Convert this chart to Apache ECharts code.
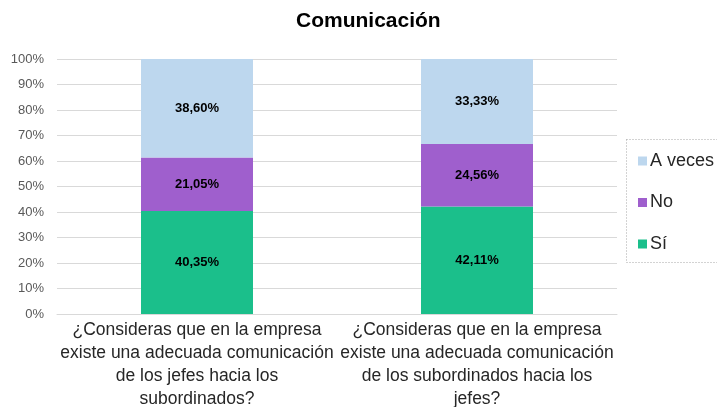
<!DOCTYPE html>
<html><head><meta charset="utf-8">
<script src="https://cdn.jsdelivr.net/npm/echarts@6/dist/echarts.min.js"></script>
<style>html,body{margin:0;padding:0;background:#fff}#c{width:717px;height:407px}</style>
</head><body><div id="c"></div>
<script>
var categories = ["¿Consideras que en la empresa\nexiste una adecuada comunicación\nde los jefes hacia los\nsubordinados?",
                  "¿Consideras que en la empresa\nexiste una adecuada comunicación\nde los subordinados hacia los\njefes?"];
var si = [40.35, 42.11];
var no = [21.05, 24.56];
var aveces = [38.60, 33.33];
var yTicks = [0,10,20,30,40,50,60,70,80,90,100];

var chart = echarts.init(document.getElementById('c'));
function lbl(p){ return p.value.toFixed(2).replace('.', ',') + '%'; }
var labelStyle = {show:true, position:'inside', formatter:lbl, fontFamily:'Liberation Sans', fontWeight:'bold', fontSize:13, color:'#000'};
chart.setOption({
  animation:false,
  title:{text:'Comunicación', left:291, top:6, textStyle:{fontFamily:'Liberation Sans', fontWeight:'bold', fontSize:21, color:'#000'}},
  grid:{left:57, right:100, top:59, bottom:93, containLabel:false, outerBoundsMode:'none'},
  legend:{orient:'vertical', left:633, top:147, itemWidth:9, itemHeight:9, itemGap:23.5, icon:'rect',
    data:['A veces','No','Sí'], textStyle:{fontFamily:'Liberation Sans', fontSize:18, color:'#262626', padding:[0,0,0,-2]}},
  graphic:[{type:'rect', shape:{x:626.5, y:139.5, width:95, height:123}, style:{fill:'none', stroke:'#a6a6a6', lineWidth:1, lineDash:[1,2]}}],
  xAxis:{type:'category', data:categories, axisTick:{show:false}, axisLine:{lineStyle:{color:'#d9d9d9'}},
    axisLabel:{interval:0, fontFamily:'Liberation Sans', fontSize:17.5, color:'#262626', lineHeight:23, margin:5}},
  yAxis:{type:'value', min:0, max:100, interval:10, axisLabel:{formatter:function(v){return v+'%';}, fontFamily:'Liberation Sans', fontSize:13, color:'#595959', margin:13},
    splitLine:{lineStyle:{color:'#d9d9d9'}}, axisLine:{show:false}, axisTick:{show:false}},
  series:[
    {name:'Sí', type:'bar', stack:'s', data:si, barWidth:'40%', itemStyle:{color:'#1bbf8b'}, label:labelStyle},
    {name:'No', type:'bar', stack:'s', data:no, itemStyle:{color:'#9f5fcd'}, label:labelStyle},
    {name:'A veces', type:'bar', stack:'s', data:aveces, itemStyle:{color:'#bdd7ee'}, label:labelStyle}
  ]
});
</script></body></html>
